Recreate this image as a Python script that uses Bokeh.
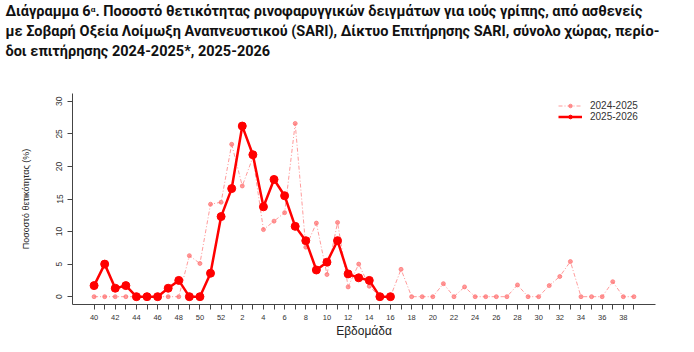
from bokeh.plotting import figure
from bokeh.models import FixedTicker, Title, Legend, LegendItem, Range1d
from bokeh.embed import file_html
from bokeh.resources import INLINE

weeks = [40, 41, 42, 43, 44, 45, 46, 47, 48, 49, 50, 51, 52] + list(range(1, 40))
tick_labels = [str(w) if w % 2 == 0 else "" for w in weeks]

s2425 = [0, 0, 0, 0, 0, 0, 0, 0, 0, 6.3, 5.1, 14.2, 14.5,
         23.4, 17.0, 21.4, 10.3, 11.6, 12.9, 26.6, 7.6, 11.3, 3.4, 11.4, 1.5, 5.0, 1.6,
         0, 0, 4.2, 0, 0, 0, 2.0, 0, 1.5, 0, 0, 0, 0, 1.8, 0, 0, 1.7, 3.1, 5.4, 0, 0, 0, 2.3, 0, 0]
s2526 = [1.7, 5.0, 1.3, 1.7, 0, 0, 0, 1.3, 2.5, 0, 0, 3.6, 12.3,
         16.6, 26.2, 21.8, 13.8, 18.0, 15.5, 10.8, 8.6, 4.1, 5.3, 8.6, 3.5, 2.9, 2.5, 0, 0]

x_a = list(range(len(s2425)))
x_b = list(range(len(s2526)))

p = figure(width=694, height=352, output_backend="svg", toolbar_location=None,
           x_range=Range1d(-2.04, 53.04), y_range=Range1d(-1.2, 31.2),
           min_border_left=72, min_border_right=39, min_border_bottom=48, min_border_top=10)
p.outline_line_color = None
p.xgrid.visible = False
p.ygrid.visible = False
p.background_fill_color = "white"

pink = "#FF7070"
l1 = p.line(x_a, s2425, line_color=pink, line_width=1, line_dash="4 2 1 2", line_alpha=0.7)
c1 = p.scatter(x_a, s2425, size=4, fill_color=pink, line_color=pink, alpha=0.7)
l2 = p.line(x_b, s2526, line_color="#FF0000", line_width=2.5)
c2 = p.scatter(x_b, s2526, size=8, fill_color="#FF0000", line_color="#FF0000")

legend = Legend(items=[LegendItem(label="2024-2025", renderers=[l1, c1]),
                       LegendItem(label="2025-2026", renderers=[l2, c2])],
                location=(486, 182), border_line_color=None, background_fill_alpha=0,
                label_text_font="Liberation Sans", label_text_font_size="10px",
                label_text_color="#333333", glyph_height=9, glyph_width=24,
                label_height=9, spacing=0, padding=0, margin=0, label_standoff=8)
p.add_layout(legend)

p.xaxis.ticker = FixedTicker(ticks=x_a)
p.xaxis.major_label_overrides = {i: t for i, t in enumerate(tick_labels)}
p.xaxis.major_label_text_font = "Liberation Sans"
p.xaxis.major_label_text_font_size = "7.5px"
p.xaxis.major_label_text_color = "#333333"
p.xaxis.major_tick_out = 5
p.xaxis.major_tick_in = 0
p.xaxis.minor_tick_line_color = None
p.xaxis.axis_line_color = "#444444"
p.xaxis.major_tick_line_color = "#444444"
p.xaxis.axis_label = "Εβδομάδα"
p.xaxis.axis_label_text_font = "Liberation Sans"
p.xaxis.axis_label_text_font_style = "normal"
p.xaxis.axis_label_text_font_size = "12px"
p.xaxis.axis_label_text_color = "#222222"
p.xaxis.axis_label_standoff = 1

p.yaxis.ticker = FixedTicker(ticks=[0, 5, 10, 15, 20, 25, 30])
p.yaxis.major_label_orientation = "vertical"
p.yaxis.major_label_text_font = "Liberation Sans"
p.yaxis.major_label_text_font_size = "8.5px"
p.yaxis.major_label_text_color = "#333333"
p.yaxis.major_tick_out = 5
p.yaxis.major_tick_in = 0
p.yaxis.minor_tick_line_color = None
p.yaxis.axis_line_color = "#444444"
p.yaxis.major_tick_line_color = "#444444"
p.yaxis.axis_label = "Ποσοστό θετικότητας (%)"
p.yaxis.axis_label_text_font = "Liberation Sans"
p.yaxis.axis_label_text_font_style = "normal"
p.yaxis.axis_label_text_font_size = "9px"
p.yaxis.axis_label_text_color = "#222222"
p.yaxis.axis_label_standoff = 23

title_lines = [
    "Διάγραμμα 6ᵅ. Ποσοστό θετικότητας ρινοφαρυγγικών δειγμάτων για ιούς γρίπης, από ασθενείς",
    "με Σοβαρή Οξεία Λοίμωξη Αναπνευστικού (SARI), Δίκτυο Επιτήρησης SARI, σύνολο χώρας, περίο-",
    "δοι  επιτήρησης 2024-2025*, 2025-2026",
]
p.add_layout(Title(text=" ", text_font_size="19px"), "above")
for line in reversed(title_lines):
    p.add_layout(Title(text=line, text_font="Roboto", text_font_style="bold",
                       text_font_size="14.5px", text_color="#111111", offset=-67,
                       standoff=1), "above")

open("out.html", "w").write(file_html(p, INLINE))
